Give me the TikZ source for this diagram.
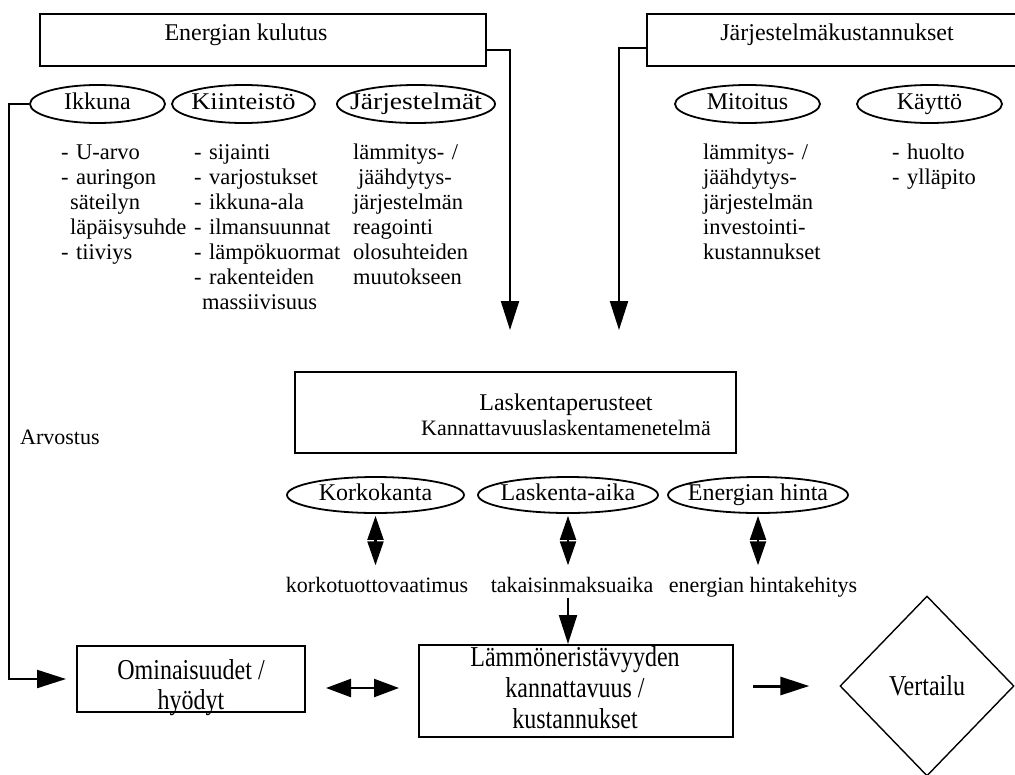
\documentclass[tikz,border=0pt]{standalone}
\usepackage{fontspec}
\setmainfont{Liberation Serif}
\usepackage{graphicx}
\usetikzlibrary{arrows.meta,shapes.geometric}
\newcommand\hfont{\fontsize{24}{26}\selectfont}
\newcommand\bfont{\fontsize{22.5}{25}\selectfont}
\newcommand\lfont{\fontsize{22}{25}\selectfont}
\newcommand\tallln[1]{\scalebox{1}[1.2]{#1}}
\newcommand\zw[1]{\makebox[0pt]{#1}}
\begin{document}
\begin{tikzpicture}[x=1pt,y=-1pt,
  box/.style={draw, line width=2pt, inner sep=0pt},
  oval/.style={draw, ellipse, line width=1.8pt, inner sep=0pt, minimum height=38pt,
    font=\hfont, text height=16pt, text depth=5pt},
  txt/.style={inner sep=0pt, text height=16pt, text depth=5pt},
  list/.style={anchor=north west, inner sep=0pt, align=left, font=\bfont, text width=200pt},
  conn/.style={line width=2.2pt},
  tip/.style={-{Triangle[length=29pt,width=18pt]}},
  dblv/.style={{Triangle[length=24pt,width=16pt]}-{Triangle[length=24pt,width=16pt]}},
  dblh/.style={{Triangle[length=25pt,width=18pt]}-{Triangle[length=25pt,width=18pt]}},
]
\useasboundingbox (0,0) rectangle (1015,774);

% top boxes
\node[box, minimum width=446pt, minimum height=52pt] (ek) at (263,40) {};
\node[txt, font=\hfont] (ekt) at (246,35) {Energian kulutus};
\node[box, minimum width=372pt, minimum height=52pt] (jk) at (833,40) {};
\node[txt, font=\hfont] (jkt) at (837,35) {Järjestelmäkustannukset};

\coordinate (eke) at (510,330);
\coordinate (jke) at (619,330);
\draw[conn,tip] ([yshift=-10pt]ek.east) -| (eke);
\draw[conn,tip] ([yshift=-8pt]jk.west) -| (jke);

% top ellipses
\node[oval, minimum width=135pt] (ik) at (97.5,104) {\zw{Ikkuna}};
\node[oval, minimum width=143pt] (ki) at (243.5,104) {\zw{\scalebox{1.1}[1]{Kiinteistö}}};
\node[oval, minimum width=158pt] (js) at (416,104) {\zw{\scalebox{1.15}[1]{Järjestelmät}}};
\node[oval, minimum width=145pt] (mi) at (747.5,104) {\zw{Mitoitus}};
\node[oval, minimum width=145pt] (ka) at (929.5,104) {\zw{Käyttö}};

% lists
\node[list] (ikl) at (61,142) {\strut- U-arvo\\- auringon\\\hspace*{9pt}säteilyn\\\hspace*{9pt}läpäisysuhde\\- tiiviys};
\node[list] (kil) at (194,142) {\strut- sijainti\\- varjostukset\\- ikkuna-ala\\- ilmansuunnat\\- lämpökuormat\\- rakenteiden\\\hspace*{8pt}massiivisuus};
\node[list] (jsl) at (353,142) {\strut lämmitys- /\\\hspace*{5pt}jäähdytys-\\järjestelmän\\reagointi\\olosuhteiden\\muutokseen};
\node[list] (mil) at (703,142) {\strut lämmitys- /\\jäähdytys-\\järjestelmän\\investointi-\\kustannukset};
\node[list] (kal) at (892,142) {\strut- huolto\\- ylläpito};

\node[txt, anchor=west, font=\lfont] (arv) at (20,439) {Arvostus};

% Laskentaperusteet
\node[box, minimum width=441pt, minimum height=81pt] (lp) at (515.5,412.5) {};
\node[txt, font=\hfont] (lpt1) at (566,405) {Laskentaperusteet};
\node[txt, font=\lfont] (lpt2) at (566,430) {Kannattavuuslaskentamenetelmä};

% second row ellipses
\node[oval, minimum width=177pt, minimum height=36pt] (ko) at (375.5,495) {\zw{Korkokanta}};
\node[oval, minimum width=180pt, minimum height=36pt] (la) at (568,495) {\zw{Laskenta-aika}};
\node[oval, minimum width=180pt, minimum height=36pt] (eh) at (758,495) {\zw{Energian hinta}};

\node[txt, font=\lfont] (kol) at (377,587) {korkotuottovaatimus};
\node[txt, font=\lfont] (tml) at (572,587) {takaisinmaksuaika};
\node[txt, font=\lfont] (ehl) at (763,587) {energian hintakehitys};

\draw[conn,dblv,shorten <=2pt,shorten >=11pt] (ko.south) -- (ko.south |- kol.north);
\draw[conn,dblv,shorten <=2pt,shorten >=11pt] (la.south) -- (la.south |- tml.north);
\draw[conn,dblv,shorten <=2pt,shorten >=11pt] (eh.south) -- (eh.south |- ehl.north);

% bottom row
\node[box, minimum width=228pt, minimum height=66pt] (om) at (191,679) {};
\node[inner sep=0pt, align=center, font=\fontsize{24}{30}\selectfont] (omt) at (191,688) {\tallln{Ominaisuudet /}\\\tallln{hyödyt}};
\node[box, minimum width=314pt, minimum height=92pt] (lk) at (576,691) {};
\node[inner sep=0pt, align=center, font=\fontsize{24}{31}\selectfont] (lkt) at (575,688) {\tallln{Lämmöneristävyyden}\\\tallln{kannattavuus /}\\\tallln{kustannukset}};
\node[draw, diamond, line width=1.4pt, minimum width=174pt, minimum height=180pt, inner sep=0pt,
  font=\fontsize{24}{30}\selectfont] (vd) at (927,686) {\zw{\tallln{Vertailu}}};

\draw[conn,tip] (ik.west) -- ++(-20,0) |- ([xshift=-10pt]om.west);
\draw[conn,tip] (la.south |- tml.south) -- (la.south |- lk.north);
\draw[conn,dblh,shorten <=20pt,shorten >=19pt] ([yshift=-9pt]om.east) -- ([yshift=-9pt]om.east -| lk.west);
\draw[line width=3pt,tip,shorten <=19pt,shorten >=30pt] (vd.west -| lk.east) -- (vd.west);
\end{tikzpicture}
\end{document}
